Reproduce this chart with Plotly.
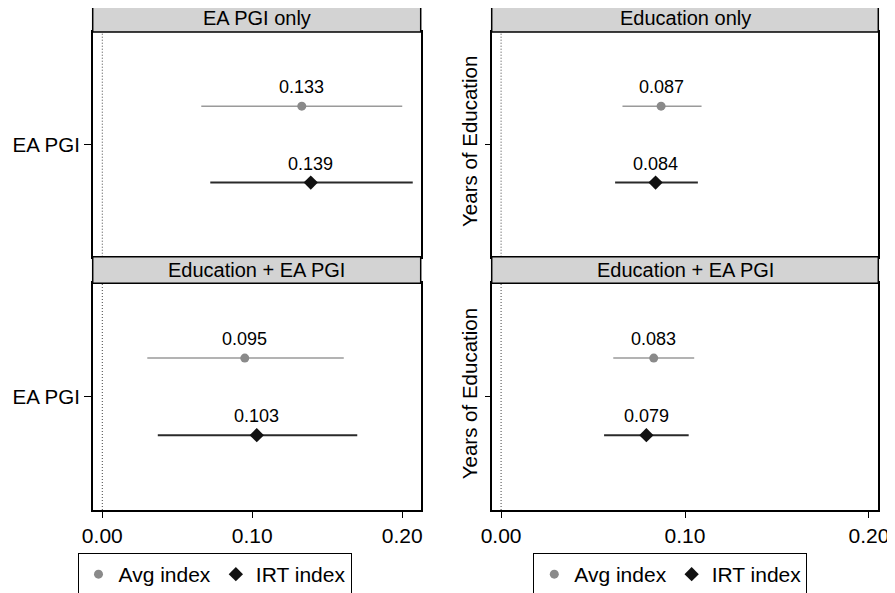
import plotly.graph_objects as go

# ---- data ----
panel_titles = ["EA PGI only", "Education only", "Education + EA PGI", "Education + EA PGI"]
row_labels = ["EA PGI", "Years of Education", "EA PGI", "Years of Education"]
series_names = ["Avg index", "IRT index"]

avg_est = [0.133, 0.087, 0.095, 0.083]
avg_lo = [0.066, 0.066, 0.030, 0.061]
avg_hi = [0.200, 0.109, 0.161, 0.105]

irt_est = [0.139, 0.084, 0.103, 0.079]
irt_lo = [0.072, 0.062, 0.037, 0.056]
irt_hi = [0.207, 0.107, 0.170, 0.102]

x_tickvals = [0.0, 0.1, 0.2]
x_ticktext = ["0.00", "0.10", "0.20"]

# ---- layout geometry (page body has an 8px margin) ----
PAD = 8
W, H = 895 - PAD, 593 - PAD


def px(x):
    return (x - PAD) / W


def py(y):
    return 1 - (y - PAD) / H


col_dom = [[px(92.7), px(420.7)], [px(491.7), px(878.3)]]
row_dom = [[py(256.7), py(32)], [py(510), py(283.3)]]
hdr_dom = [[py(32), py(5)], [py(283.3), py(256.7)]]
x_ranges = [[-0.0064, 0.2123], [-0.0051, 0.2051]]
OFF = 0.34  # vertical dodge of the two estimates

FONT = "Liberation Sans, Arial, sans-serif"
AVG_COL = "#8a8a8a"
AVG_LINE = "#9a9a9a"
IRT_COL = "#111111"
IRT_LINE = "#2a2a2a"

fig = go.Figure()
layout = dict(
    width=W, height=H,
    margin=dict(l=0, r=0, t=0, b=0, autoexpand=False),
    paper_bgcolor="white", plot_bgcolor="white",
    font=dict(family=FONT, color="black", size=20),
    shapes=[], annotations=[],
)

for i in range(4):
    r, c = divmod(i, 2)
    ax = "" if i == 0 else str(i + 1)
    xname, yname = "x" + ax, "y" + ax
    leg = "legend" if c == 0 else "legend2"
    show = r == 0

    fig.add_trace(go.Scatter(
        x=[avg_est[i]], y=[OFF], xaxis=xname, yaxis=yname, mode="markers",
        name=series_names[0], legend=leg, showlegend=show, legendrank=1,
        marker=dict(symbol="circle", size=9, color=AVG_COL),
        error_x=dict(type="data", symmetric=False,
                     array=[avg_hi[i] - avg_est[i]],
                     arrayminus=[avg_est[i] - avg_lo[i]],
                     color=AVG_LINE, thickness=1.5, width=0),
    ))
    fig.add_trace(go.Scatter(
        x=[irt_est[i]], y=[-OFF], xaxis=xname, yaxis=yname, mode="markers",
        name=series_names[1], legend=leg, showlegend=show, legendrank=2,
        marker=dict(symbol="diamond", size=11, color=IRT_COL),
        error_x=dict(type="data", symmetric=False,
                     array=[irt_hi[i] - irt_est[i]],
                     arrayminus=[irt_est[i] - irt_lo[i]],
                     color=IRT_LINE, thickness=2, width=0),
    ))

    bottom = r == 1
    layout["xaxis" + ax] = dict(
        domain=col_dom[c], range=x_ranges[c], anchor=yname, automargin=False,
        tickvals=x_tickvals, ticktext=x_ticktext,
        showticklabels=bottom, ticks="outside" if bottom else "",
        ticklen=6, tickwidth=1, tickcolor="black",
        tickfont=dict(size=21, family=FONT, color="black"),
        showgrid=False, zeroline=False,
        showline=True, mirror=True, linecolor="black", linewidth=1.5,
    )
    layout["yaxis" + ax] = dict(
        domain=row_dom[r], range=[-1, 1], anchor=xname, automargin=False,
        tickvals=[0], ticktext=[row_labels[i]],
        tickangle=0 if c == 0 else -90,
        ticks="outside", ticklen=7 if c == 0 else 5, tickwidth=1, tickcolor="black",
        tickfont=dict(size=20.5, family=FONT, color="black"),
        showgrid=False, zeroline=False,
        showline=True, mirror=True, linecolor="black", linewidth=1.5,
    )

    # dotted reference line at zero
    layout["shapes"].append(dict(
        type="line", xref=xname, yref=yname + " domain",
        x0=0, x1=0, y0=0, y1=1,
        line=dict(color="#444444", width=1, dash="1px,2px"), layer="below",
    ))
    # header strip
    layout["shapes"].append(dict(
        type="rect", xref="paper", yref="paper",
        x0=col_dom[c][0], x1=col_dom[c][1], y0=hdr_dom[r][0], y1=hdr_dom[r][1],
        fillcolor="#d3d3d3", line=dict(color="black", width=1.5),
    ))
    layout["annotations"].append(dict(
        text=panel_titles[i], xref="paper", yref="paper",
        x=sum(col_dom[c]) / 2, y=sum(hdr_dom[r]) / 2,
        xanchor="center", yanchor="middle", showarrow=False,
        font=dict(size=20, family=FONT, color="black"),
    ))
    # value labels
    for est, yy in ((avg_est[i], OFF), (irt_est[i], -OFF)):
        layout["annotations"].append(dict(
            text=f"{est:.3f}", xref=xname, yref=yname, x=est, y=yy,
            yshift=19, xanchor="center", yanchor="middle", showarrow=False,
            font=dict(size=18, family=FONT, color="black"),
        ))

legend_common = dict(
    orientation="h", yanchor="middle", xanchor="center", y=py(574.5),
    bordercolor="black", borderwidth=1, bgcolor="white",
    font=dict(size=21, family=FONT, color="black"), itemwidth=30,
)
layout["legend"] = dict(x=px(214.5), **legend_common)
layout["legend2"] = dict(x=px(670.3), **legend_common)

fig.update_layout(**layout)
fig.write_html("out.html")
